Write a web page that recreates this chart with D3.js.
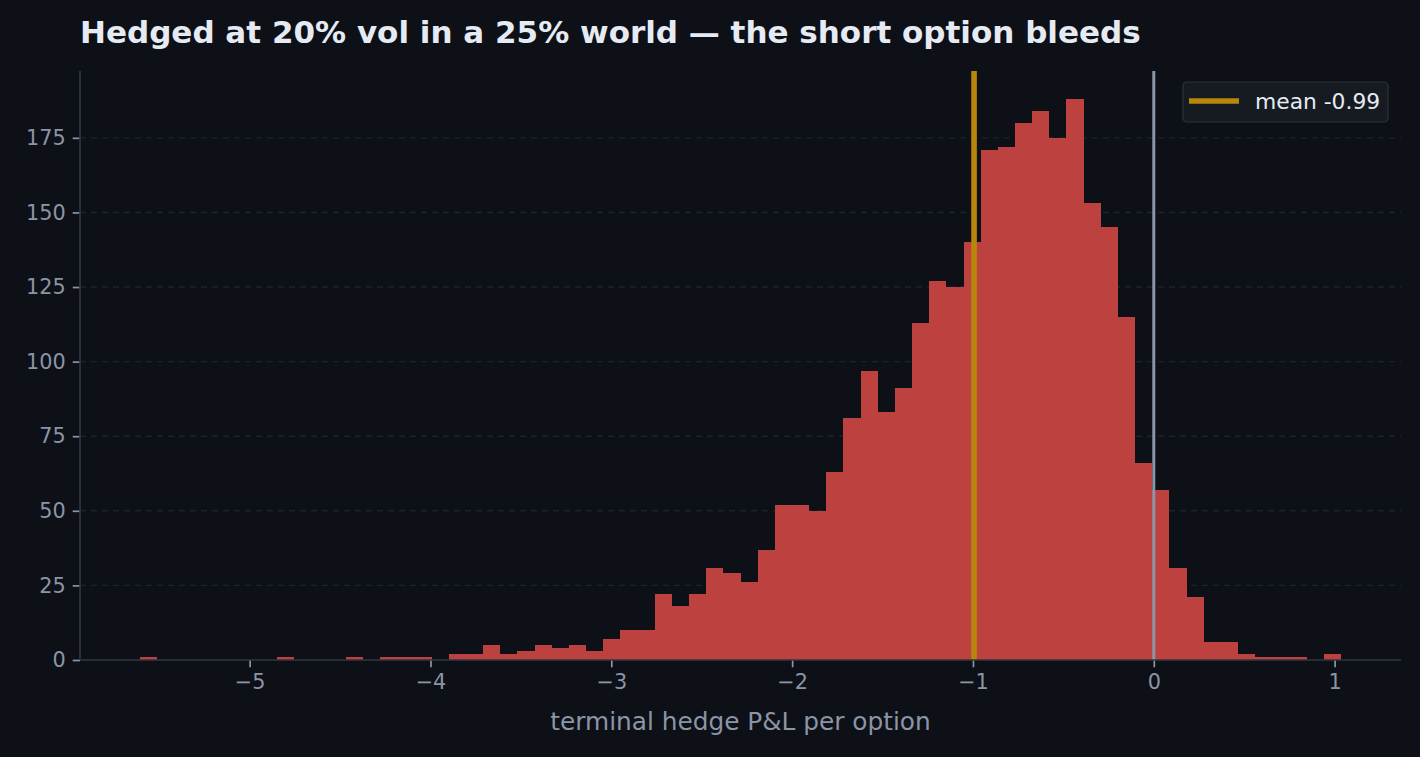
<!DOCTYPE html>
<html>
<head>
<meta charset="utf-8">
<script src="https://cdn.jsdelivr.net/npm/d3@7"></script>
<style>
  html, body { margin: 0; padding: 0; background: #0d1017; }
  svg { display: block; }
  text { font-family: "DejaVu Sans", sans-serif; }
</style>
</head>
<body>
<svg id="chart" width="1420" height="757"></svg>
<script>
// ---- data ----
const binMin = -5.606;
const binMax = 1.035;
const counts = [1,0,0,0,0,0,0,0,1,0, 0,0,1,0,1,1,1,0,2,2,
                5,2,3,5,4,5,3,7,10,10, 22,18,22,31,29,26,37,52,52,50,
                63,81,97,83,91,113,127,125,140,171, 172,180,184,175,188,153,145,115,66,57,
                31,21,6,6,2,1,1,1,0,2];
const meanValue = -0.994;
const zeroValue = 0;
const xTicks = [-5, -4, -3, -2, -1, 0, 1];
const yTicks = [0, 25, 50, 75, 100, 125, 150, 175];
const titleText = "Hedged at 20% vol in a 25% world — the short option bleeds";
const xLabel = "terminal hedge P&L per option";
const legendLabel = "mean " + meanValue.toFixed(2);

// ---- layout ----
const svg = d3.select("#chart");
const W = 1420, H = 757;
const m = { left: 80, right: 19, top: 71, bottom: 97 };
const iw = W - m.left - m.right, ih = H - m.top - m.bottom;

svg.append("rect").attr("width", W).attr("height", H).attr("fill", "#0d1017");

const nb = counts.length;
const bw = (binMax - binMin) / nb;
const bins = counts.map((c, i) => ({ x0: binMin + i * bw, x1: binMin + (i + 1) * bw, c }));

const span = binMax - binMin;
const x = d3.scaleLinear().domain([binMin - 0.05 * span, binMax + 0.05 * span]).range([m.left, m.left + iw]);
const ymax = d3.max(counts) * 1.05;
const y = d3.scaleLinear().domain([0, ymax]).range([m.top + ih, m.top]);

const g = svg.append("g");

// grid
g.append("g").selectAll("line").data(yTicks.filter(d => d > 0)).join("line")
  .attr("x1", m.left).attr("x2", m.left + iw)
  .attr("y1", d => y(d)).attr("y2", d => y(d))
  .attr("stroke", "#1d232d").attr("stroke-width", 1.4).attr("stroke-dasharray", "6,5");

// bars
g.append("g").selectAll("rect").data(bins.filter(b => b.c > 0)).join("rect")
  .attr("x", b => x(b.x0))
  .attr("width", b => x(b.x1) - x(b.x0))
  .attr("y", b => y(b.c))
  .attr("height", b => y(0) - y(b.c))
  .attr("fill", "#bd413f")
  .attr("shape-rendering", "crispEdges");

// vertical lines
g.append("line").attr("x1", x(zeroValue)).attr("x2", x(zeroValue))
  .attr("y1", m.top).attr("y2", m.top + ih)
  .attr("stroke", "#8a96a6").attr("stroke-width", 3);
g.append("line").attr("x1", x(meanValue)).attr("x2", x(meanValue))
  .attr("y1", m.top).attr("y2", m.top + ih)
  .attr("stroke", "#b8860b").attr("stroke-width", 5.6);

// axes
const xAxis = d3.axisBottom(x).tickValues(xTicks).tickSize(7.3).tickPadding(7)
  .tickFormat(d => d < 0 ? "\u2212" + Math.abs(d) : String(d));
const xa = g.append("g").attr("transform", `translate(0,${m.top + ih})`).call(xAxis);
const yAxis = d3.axisLeft(y).tickValues(yTicks).tickSize(7.3).tickPadding(7);
const ya = g.append("g").attr("transform", `translate(${m.left},0)`).call(yAxis);
[xa, ya].forEach(a => {
  a.select(".domain").remove();
  a.selectAll(".tick line").attr("stroke", "#8b95a5").attr("stroke-width", 1.7);
  a.selectAll(".tick text").attr("fill", "#8b95a5").attr("font-size", "20.8px")
    .attr("font-family", "DejaVu Sans, sans-serif");
});

// spines
g.append("line").attr("x1", m.left).attr("x2", m.left).attr("y1", m.top).attr("y2", m.top + ih)
  .attr("stroke", "#2f3644").attr("stroke-width", 1.7);
g.append("line").attr("x1", m.left).attr("x2", m.left + iw).attr("y1", m.top + ih).attr("y2", m.top + ih)
  .attr("stroke", "#2f3644").attr("stroke-width", 1.7);

// title
svg.append("text").attr("x", 80).attr("y", 43).attr("fill", "#e6ebf3")
  .attr("font-size", "31px").attr("font-weight", "bold").text(titleText);

// x label
svg.append("text").attr("x", m.left + iw / 2).attr("y", 730).attr("text-anchor", "middle")
  .attr("fill", "#8b95a5").attr("font-size", "24.8px").text(xLabel);

// legend
const lg = svg.append("g").attr("transform", "translate(1183,82)");
lg.append("rect").attr("width", 205).attr("height", 40).attr("rx", 4)
  .attr("fill", "#161b22").attr("stroke", "#2d333c").attr("stroke-width", 1.2);
lg.append("line").attr("x1", 6).attr("x2", 56).attr("y1", 19).attr("y2", 19)
  .attr("stroke", "#b8860b").attr("stroke-width", 5.6);
lg.append("text").attr("x", 72).attr("y", 26.5).attr("fill", "#e6ebf3")
  .attr("font-size", "21.8px").text(legendLabel);
</script>
</body>
</html>
